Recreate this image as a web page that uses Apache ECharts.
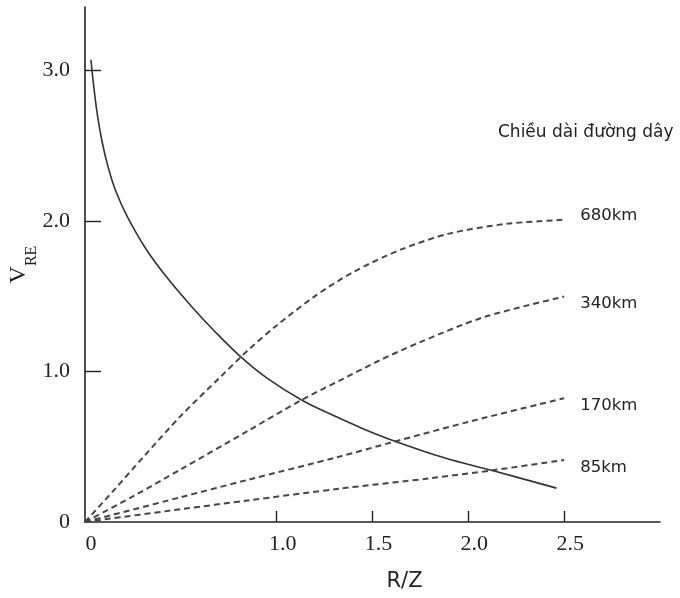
<!DOCTYPE html>
<html>
<head>
<meta charset="utf-8">
<script src="https://cdn.jsdelivr.net/npm/echarts@6/dist/echarts.min.js"></script>
<style>html,body{margin:0;padding:0;background:#fff}#c{width:680px;height:598px}</style>
</head>
<body>
<div id="c"></div>
<script>
// Data
var solidCurve = [[0.031,3.07],[0.045,2.9],[0.065,2.7],[0.09,2.52],[0.12,2.36],[0.16,2.2],[0.22,2.03],[0.32,1.81],[0.43,1.62],[0.55,1.44],[0.67,1.275],[0.81,1.10],[0.95,0.955],[1.13,0.81],[1.3,0.705],[1.45,0.62],[1.61,0.54],[1.87,0.428],[2.13,0.34],[2.46,0.225]];
var line680 = [[0,0],[0.15,0.21],[0.3,0.425],[0.5,0.705],[0.7,0.955],[0.85,1.14],[1.0,1.305],[1.2,1.50],[1.4,1.66],[1.65,1.81],[1.9,1.915],[2.2,1.98],[2.5,2.007]];
var line340 = [[0,0],[0.25,0.17],[0.5,0.35],[0.85,0.605],[1.13,0.81],[1.33,0.94],[1.54,1.075],[1.74,1.19],[2.08,1.36],[2.5,1.497]];
var line170 = [[0,0],[0.5,0.165],[0.85,0.28],[1.33,0.435],[1.61,0.532],[2.0,0.665],[2.5,0.822]];
var line85 = [[0,0],[0.5,0.085],[0.85,0.143],[1.33,0.222],[1.8,0.29],[2.135,0.345],[2.5,0.412]];
var lineNames = ['680km','340km','170km','85km'];
var xLabelValues = [0, 1.0, 1.5, 2.0, 2.5];
var xTickValues = [1.0, 1.5, 2.0, 2.5];
var yLabelValues = [0, 1, 2, 3];
var yTickValues = [1, 2, 3];
var legendTitle = 'Chiều dài đường dây';

var chart = echarts.init(document.getElementById('c'));
var dashStyle = {color:'#464646', width:2, type:[6,4]};
var labelOffsets = [[8,-4],[8,7],[8,7],[8,8]];
var dashedData = [line680, line340, line170, line85];
var series = dashedData.map(function(d,i){
  return {
    name: lineNames[i], type:'line', data:d, smooth:0.3, symbol:'none',
    lineStyle: dashStyle, silent:true,
    endLabel: {show:true, formatter: lineNames[i], offset: labelOffsets[i],
      fontFamily:'DejaVu Sans, sans-serif', fontSize:16.5, color:'#222'}
  };
});
series.push({name:'VRE', type:'line', data:solidCurve, smooth:0.4, symbol:'none',
  lineStyle:{color:'#333', width:1.6}, silent:true});

chart.setOption({
  animation:false,
  grid:{left:85, right:20, top:7, bottom:76, containLabel:false, outerBoundsMode:'none'},
  xAxis:{
    type:'value', min:0, max:3.0,
    splitLine:{show:false},
    axisLine:{lineStyle:{color:'#222', width:1.6}},
    axisTick:{show:true, inside:true, length:11, customValues:xTickValues, lineStyle:{color:'#222', width:1.4}},
    axisLabel:{customValues:xLabelValues, margin:11, padding:[0,0,0,12],
      fontFamily:'Liberation Serif, serif', fontSize:22, color:'#222',
      formatter:function(v){return v===0?'0':v.toFixed(1);}},
    name:'R/Z', nameLocation:'middle', nameGap:49, nameMoveOverlap:false,
    nameTextStyle:{fontFamily:'DejaVu Sans, sans-serif', fontSize:21, color:'#222', padding:[0,0,0,64]}
  },
  yAxis:{
    type:'value', min:0, max:3.42,
    splitLine:{show:false},
    axisLine:{lineStyle:{color:'#222', width:1.6}},
    axisTick:{show:true, inside:true, length:16, customValues:yTickValues, lineStyle:{color:'#222', width:1.4}},
    axisLabel:{customValues:yLabelValues, margin:15,
      fontFamily:'Liberation Serif, serif', fontSize:22, color:'#222',
      formatter:function(v){return v===0?'0':v.toFixed(1);}},
    name:'{v|V}{s|RE}', nameLocation:'middle', nameGap:45, nameRotate:90, nameMoveOverlap:false,
    nameTextStyle:{rich:{
      v:{fontFamily:'Liberation Serif, serif', fontSize:24, color:'#222', lineHeight:24, verticalAlign:'bottom', padding:[0,0,9,0]},
      s:{fontFamily:'Liberation Serif, serif', fontSize:16, color:'#222', lineHeight:18, verticalAlign:'bottom'}
    }}
  },
  graphic:[{type:'text', x:498, y:133, style:{text:legendTitle, verticalAlign:'middle',
    font:'17px "DejaVu Sans", sans-serif', fill:'#222'}}],
  series:series
});
</script>
</body>
</html>
